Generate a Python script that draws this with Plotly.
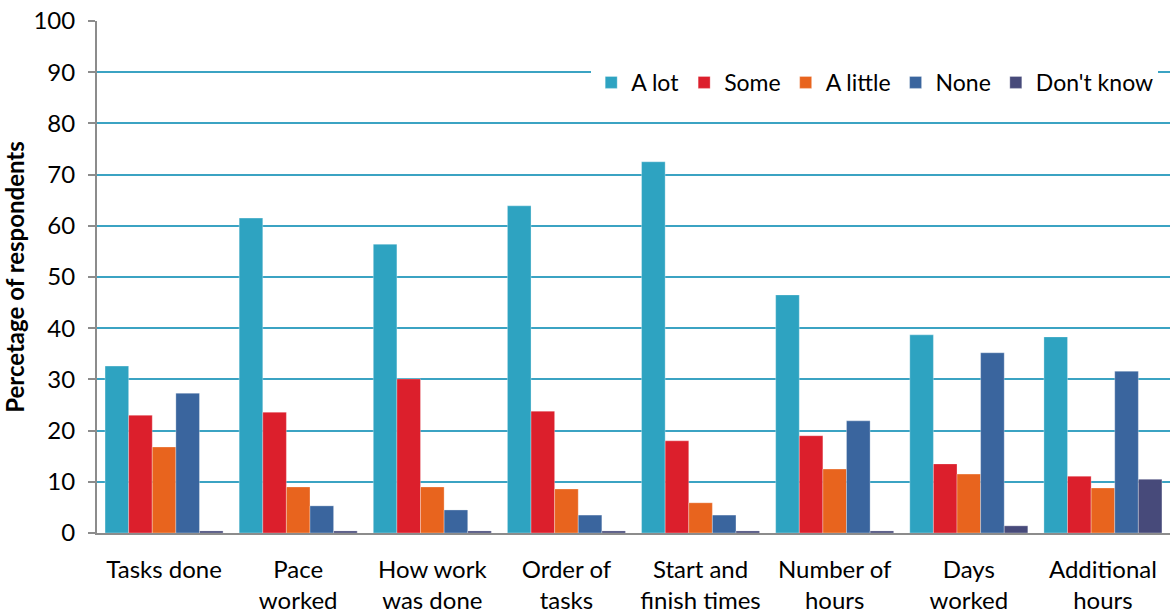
import plotly.graph_objects as go

categories = ["Tasks done", "Pace<br>worked", "How work<br>was done", "Order of<br>tasks",
              "Start and<br>finish times", "Number of<br>hours", "Days<br>worked", "Additional<br>hours"]

a_lot = [32.6, 61.5, 56.4, 63.9, 72.5, 46.5, 38.7, 38.3]
some = [23.0, 23.6, 30.1, 23.8, 18.0, 19.0, 13.5, 11.1]
a_little = [16.8, 9.0, 9.0, 8.6, 5.9, 12.5, 11.5, 8.8]
none = [27.3, 5.3, 4.5, 3.5, 3.5, 21.9, 35.2, 31.6]
dont_know = [0.4, 0.4, 0.4, 0.4, 0.4, 0.4, 1.4, 10.5]

series = [
    ("A lot", a_lot, "#2ea3c1"),
    ("Some", some, "#dc1f2c"),
    ("A little", a_little, "#e8641e"),
    ("None", none, "#3a659e"),
    ("Don't know", dont_know, "#474a7a"),
]

FONT = "Lato, Open Sans, sans-serif"

fig = go.Figure()
for name, vals, color in series:
    fig.add_trace(go.Bar(
        x=categories,
        y=vals,
        name=name,
        marker=dict(color=color, line=dict(color="rgba(255,255,255,0.6)", width=0.5)),
    ))

fig.update_layout(
    width=1170,
    height=615,
    barmode="group",
    bargap=0.12,
    bargroupgap=0,
    plot_bgcolor="white",
    paper_bgcolor="white",
    margin=dict(l=97, r=0, t=21, b=82),
    font=dict(family=FONT, size=24, color="black"),
    xaxis=dict(
        showline=True,
        linecolor="#8c8c8c",
        linewidth=2,
        ticks="",
        tickfont=dict(size=24),
        ticklabelstandoff=14,
    ),
    yaxis=dict(
        range=[0, 100],
        dtick=10,
        showgrid=True,
        gridcolor="#3ba3c3",
        gridwidth=1.5,
        showline=True,
        linecolor="#8c8c8c",
        linewidth=2,
        ticks="outside",
        ticklen=7,
        tickcolor="#8c8c8c",
        tickwidth=2,
        tickfont=dict(size=24),
        ticklabelstandoff=8,
        zeroline=False,
        title=dict(text="<b>Percetage of respondents</b>", font=dict(size=24), standoff=10),
    ),
    legend=dict(
        orientation="h",
        x=0.989,
        xanchor="right",
        y=0.88,
        yanchor="middle",
        bgcolor="white",
        font=dict(size=23),
        itemwidth=30,
        traceorder="normal",
    ),
)

# drop the default body margin so the figure sits at the page's top-left corner
fig.write_html("out.html", config={"displayModeBar": False},
               post_script="document.body.style.margin='0';")
